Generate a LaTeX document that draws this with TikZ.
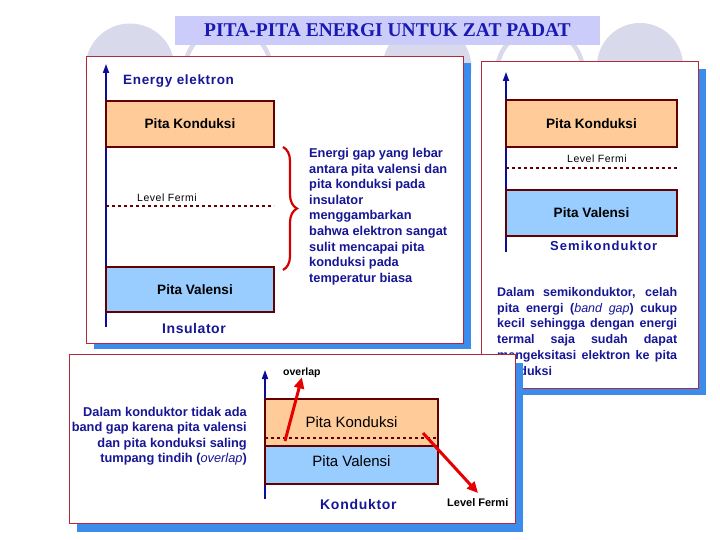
\documentclass[tikz,border=0pt]{standalone}
\usepackage{fontspec}
\setmainfont{Liberation Sans}
\newfontfamily\titlefont{Liberation Serif}
\usetikzlibrary{decorations.pathreplacing,arrows.meta}
\definecolor{txtblue}{RGB}{22,22,150}
\definecolor{axisblue}{RGB}{12,12,150}
\definecolor{panelred}{RGB}{180,40,60}
\definecolor{shadowblue}{RGB}{60,140,235}
\definecolor{bandred}{RGB}{100,0,0}
\definecolor{peach}{RGB}{255,204,153}
\definecolor{lightblue}{RGB}{153,204,255}
\definecolor{bracered}{RGB}{210,0,0}
\definecolor{arrowred}{RGB}{230,0,0}
\definecolor{lav}{RGB}{217,217,236}
\definecolor{titlefill}{RGB}{204,204,250}
\definecolor{titleblue}{RGB}{25,25,180}
\newcommand{\myfs}[2]{\fontsize{#1}{#2}\selectfont}
\begin{document}
\begin{tikzpicture}[x=1pt,y=-1pt,
  panel/.style={draw=panelred, line width=1pt, fill=white},
  shadowbox/.style={fill=shadowblue},
  band/.style={draw=bandred, line width=2pt, inner sep=0pt, font=\bfseries\myfs{13.6}{16}},
  cband/.style={fill=peach},
  vband/.style={fill=lightblue},
  axisarrow/.style={draw=axisblue, line width=1.6pt, -{Triangle[length=9pt,width=6pt]}},
  fermi/.style={draw=bandred, line width=1.7pt, dash pattern=on 3.2pt off 2.8pt},
  para/.style={text=txtblue, inner sep=0pt},
  lbl/.style={inner sep=0pt, anchor=base west},
  redarrow/.style={draw=arrowred, line width=3pt, -{Triangle[length=11pt,width=10pt]}},
  ring/.style={draw=lav, line width=4.5pt},
]
\useasboundingbox (0,0) rectangle (720,540);
% background circles
\fill[lav] (130,68) circle (44.5);
\draw[ring] (228,70) circle (43);
\fill[lav] (427,68) circle (44.5);
\draw[ring] (540,72) circle (43);
\fill[lav] (640,66) circle (43);
% title
\node[fill=titlefill, minimum width=425pt, minimum height=29pt, inner sep=0pt,
  text=titleblue, font=\titlefont\bfseries\myfs{19.5}{22}] (title) at (387.5,30.5)
  {PITA-PITA ENERGI UNTUK ZAT PADAT};

% ---------- panel 1: insulator ----------
\fill[shadowbox] (94,63) rectangle (471,349);
\draw[panel] (86,57) rectangle (463,343);
\coordinate (ax1b) at (106,327);
\coordinate (ax1t) at (106,64);
\draw[axisarrow] (ax1b) -- (ax1t);
\node[lbl, text=txtblue, font=\bfseries\myfs{13.5}{15}\addfontfeatures{LetterSpace=5}] (en1) at (123,85) {Energy elektron};
\node[band, cband, minimum width=168pt, minimum height=46pt] (pk1) at (190,124) {Pita Konduksi};
\node[lbl, font=\myfs{10.5}{12}\addfontfeatures{LetterSpace=5}] (lf1) at (137,202) {Level Fermi};
\coordinate (f1a) at (106,206);
\coordinate (f1b) at (274,206);
\draw[fermi] (f1a) -- (f1b);
\node[band, vband, minimum width=168pt, minimum height=45pt] (pv1) at (190,289.5) {\hspace*{10pt}Pita Valensi};
\coordinate (bt) at (283,147);
\coordinate (bb) at (283,270);
\draw[bracered, line width=2.2pt, decorate, decoration={brace, amplitude=14pt}] (bt) -- (bb);
\node[para, anchor=north west, align=left, font=\bfseries\myfs{12.8}{15.6}] (par1) at (309,148)
  {Energi gap yang lebar\\antara pita valensi dan\\pita konduksi pada\\insulator\\menggambarkan\\bahwa elektron sangat\\sulit mencapai pita\\konduksi pada\\temperatur biasa};
\node[lbl, text=txtblue, font=\bfseries\myfs{14}{16}\addfontfeatures{LetterSpace=4}] (ins) at (162,333) {Insulator};

% ---------- panel 2: semikonduktor ----------
\fill[shadowbox] (489,69) rectangle (706,395);
\draw[panel] (481,62) rectangle (698,388);
\coordinate (ax2b) at (506,252);
\coordinate (ax2t) at (506,72);
\draw[axisarrow] (ax2b) -- (ax2t);
\node[band, cband, minimum width=171pt, minimum height=47pt] (pk2) at (591.5,123.5) {Pita Konduksi};
\node[lbl, font=\myfs{10.5}{12}\addfontfeatures{LetterSpace=5}] (lf2) at (567,163) {Level Fermi};
\coordinate (f2a) at (506,168);
\coordinate (f2b) at (677,168);
\draw[fermi] (f2a) -- (f2b);
\node[band, vband, minimum width=171pt, minimum height=46pt] (pv2) at (591.5,213) {Pita Valensi};
\node[lbl, text=txtblue, font=\bfseries\myfs{13}{15}\addfontfeatures{LetterSpace=8}] (semi) at (550,251) {Semikonduktor};
\node[para, anchor=north west, text width=180pt, align=justify, font=\bfseries\myfs{12.5}{15.8}] (par2) at (497,287)
  {\tolerance=10000 \hbadness=10000 \hyphenpenalty=10000 \noindent Dalam semikonduktor, celah\linebreak pita energi (\textit{\mdseries band gap}) cukup\linebreak kecil sehingga dengan energi\linebreak termal saja sudah dapat\linebreak mengeksitasi elektron ke pita\linebreak konduksi};

% ---------- panel 3: konduktor ----------
\fill[shadowbox] (77,363) rectangle (523,532);
\draw[panel] (69,354) rectangle (515,523);
\node[para, anchor=north east, align=right, font=\bfseries\myfs{12.8}{15.3}] (par3) at (247,407)
  {Dalam konduktor tidak ada\\band gap karena pita valensi\\dan pita konduksi saling\\tumpang tindih (\textit{\mdseries overlap})};
\coordinate (ax3b) at (265,499);
\coordinate (ax3t) at (265,370);
\draw[axisarrow] (ax3b) -- (ax3t);
\node[band, vband, minimum width=173pt, minimum height=46pt, font=\myfs{15}{17}] (pv3) at (351.5,461) {Pita Valensi};
\node[band, cband, minimum width=173pt, minimum height=47pt, font=\myfs{15}{17}] (pk3) at (351.5,422.5) {Pita Konduksi};
\coordinate (f3a) at (265,438);
\coordinate (f3b) at (438,438);
\draw[fermi] (f3a) -- (f3b);
\node[lbl, font=\bfseries\myfs{10.5}{12}] (ov) at (283,375) {overlap};
\node[lbl, text=txtblue, font=\bfseries\myfs{14}{16}\addfontfeatures{LetterSpace=5}] (kond) at (320,509) {Konduktor};
\node[lbl, font=\bfseries\myfs{11}{13}] (lf3) at (447,506) {Level Fermi};
\coordinate (ra1s) at (285,441);
\coordinate (ra2s) at (423,433);
\coordinate (ra2e) at (478,493);
\draw[redarrow] (ra1s) -- (ov.south);
\draw[redarrow] (ra2s) -- (ra2e);
\end{tikzpicture}
\end{document}
